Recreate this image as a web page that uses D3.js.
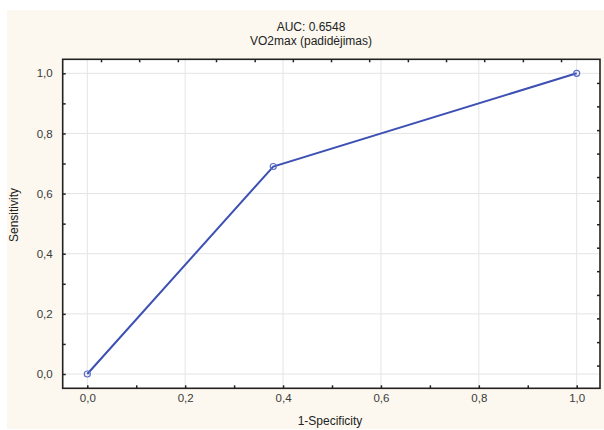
<!DOCTYPE html>
<html>
<head>
<meta charset="utf-8">
<script src="https://cdn.jsdelivr.net/npm/d3@7"></script>
<style>
  html, body { margin: 0; padding: 0; background: #ffffff; }
  svg { display: block; }
  text { font-family: "Liberation Sans", Arial, sans-serif; }
</style>
</head>
<body>
<svg id="chart" width="604" height="430"></svg>
<script>
// ROC curve points: 1-specificity (x) and sensitivity (y)
const fpr = [0.0, 0.38, 1.0];
const tpr = [0.0, 0.69, 1.0];

const titleLines = ["AUC: 0.6548", "VO2max (padidėjimas)"];
const xTitle = "1-Specificity";
const yTitle = "Sensitivity";

// Tick values for the main axes
const majorTicks = [0, 0.2, 0.4, 0.6, 0.8, 1.0];
const minorTicks = [0, 0.1, 0.2, 0.3, 0.4, 0.5, 0.6, 0.7, 0.8, 0.9, 1.0];
// Tick marks on the top and right frame edges
const frameTicks = [0.028, 0.106, 0.185, 0.263, 0.342, 0.420, 0.498, 0.576, 0.655, 0.733, 0.811, 0.890, 0.968];

const svg = d3.select("#chart");

// page background panel
svg.append("rect")
  .attr("x", 7).attr("y", 10)
  .attr("width", 597).attr("height", 419)
  .attr("fill", "#fcf8ef");

const frame = { left: 62.7, right: 600, top: 59.3, bottom: 388.3 };

const x = d3.scaleLinear().domain([0, 1]).range([87.3, 576.7]);
const y = d3.scaleLinear().domain([0, 1]).range([374, 73.3]);

// plot area
svg.append("rect")
  .attr("x", frame.left).attr("y", frame.top)
  .attr("width", frame.right - frame.left)
  .attr("height", frame.bottom - frame.top)
  .attr("fill", "#ffffff");

// grid lines
const grid = svg.append("g").attr("stroke", "#e4e4e4").attr("stroke-width", 1);
grid.selectAll("line.gx").data(majorTicks).join("line")
  .attr("class", "gx")
  .attr("x1", d => x(d)).attr("x2", d => x(d))
  .attr("y1", frame.top).attr("y2", frame.bottom);
grid.selectAll("line.gy").data(majorTicks).join("line")
  .attr("class", "gy")
  .attr("y1", d => y(d)).attr("y2", d => y(d))
  .attr("x1", frame.left).attr("x2", frame.right);

// bottom axis
const fmt = d => d3.format(".1f")(d).replace(".", ",");
svg.append("g")
  .attr("transform", `translate(0,${frame.bottom})`)
  .call(d3.axisBottom(x).tickValues(minorTicks).tickSize(-3).tickFormat(""))
  .call(g => g.select(".domain").remove())
  .call(g => g.selectAll(".tick line").attr("stroke", "#222").attr("stroke-width", 1.5));
svg.append("g")
  .attr("transform", `translate(0,${frame.bottom})`)
  .call(d3.axisBottom(x).tickValues(majorTicks).tickSize(0).tickPadding(6).tickFormat(fmt))
  .call(g => g.select(".domain").remove())
  .call(g => g.selectAll("text").attr("fill", "#3a3a3a").attr("font-size", 11.5)
    .attr("font-family", "Liberation Sans, Arial, sans-serif"));

// left axis
svg.append("g")
  .attr("transform", `translate(${frame.left},0)`)
  .call(d3.axisLeft(y).tickValues(minorTicks).tickSize(-3).tickFormat(""))
  .call(g => g.select(".domain").remove())
  .call(g => g.selectAll(".tick line").attr("stroke", "#222").attr("stroke-width", 1.5));
svg.append("g")
  .attr("transform", `translate(${frame.left},0)`)
  .call(d3.axisLeft(y).tickValues(majorTicks).tickSize(0).tickPadding(10).tickFormat(fmt))
  .call(g => g.select(".domain").remove())
  .call(g => g.selectAll("text").attr("fill", "#3a3a3a").attr("font-size", 11.5)
    .attr("font-family", "Liberation Sans, Arial, sans-serif"));

// top and right frame ticks
svg.append("g")
  .attr("transform", `translate(0,${frame.top})`)
  .call(d3.axisTop(x).tickValues(frameTicks).tickSize(-3).tickFormat(""))
  .call(g => g.select(".domain").remove())
  .call(g => g.selectAll(".tick line").attr("stroke", "#222").attr("stroke-width", 1.5));
svg.append("g")
  .attr("transform", `translate(${frame.right},0)`)
  .call(d3.axisRight(y).tickValues(frameTicks).tickSize(-3).tickFormat(""))
  .call(g => g.select(".domain").remove())
  .call(g => g.selectAll(".tick line").attr("stroke", "#222").attr("stroke-width", 1.5));

// frame border
svg.append("rect")
  .attr("x", frame.left).attr("y", frame.top)
  .attr("width", frame.right - frame.left)
  .attr("height", frame.bottom - frame.top)
  .attr("fill", "none")
  .attr("stroke", "#222")
  .attr("stroke-width", 1.6);

// ROC curve
const pts = fpr.map((v, i) => ({ x: v, y: tpr[i] }));
const blue = "#3d50b4";
svg.append("path")
  .datum(pts)
  .attr("fill", "none")
  .attr("stroke", blue)
  .attr("stroke-width", 2)
  .attr("d", d3.line().x(d => x(d.x)).y(d => y(d.y)));
svg.selectAll("circle.pt").data(pts).join("circle")
  .attr("class", "pt")
  .attr("cx", d => x(d.x)).attr("cy", d => y(d.y))
  .attr("r", 3)
  .attr("fill", "none")
  .attr("stroke", "#5a6cc8")
  .attr("stroke-width", 1.2);

// titles
svg.selectAll("text.title").data(titleLines).join("text")
  .attr("class", "title")
  .attr("x", 311)
  .attr("y", (d, i) => 31 + i * 14)
  .attr("text-anchor", "middle")
  .attr("font-size", 12)
  .attr("fill", "#222")
  .text(d => d);

svg.append("text")
  .attr("x", 330).attr("y", 425)
  .attr("text-anchor", "middle")
  .attr("font-size", 12)
  .attr("fill", "#222")
  .text(xTitle);

svg.append("text")
  .attr("transform", "translate(18,215) rotate(-90)")
  .attr("text-anchor", "middle")
  .attr("font-size", 12)
  .attr("fill", "#222")
  .text(yTitle);
</script>
</body>
</html>
